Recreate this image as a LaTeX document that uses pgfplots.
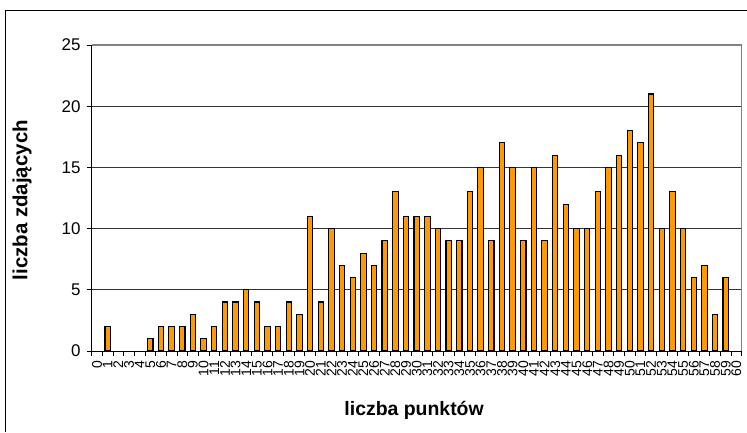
\documentclass[border=0pt]{standalone}
\usepackage{pgfplots}
\pgfplotsset{compat=1.18}
\usepackage{fontspec}
\setmainfont{Liberation Sans}
\definecolor{barorange}{HTML}{FF9900}
\definecolor{bordergray}{HTML}{808080}
\pgfplotstableread{
x y
0 0
1 2
2 0
3 0
4 0
5 1
6 2
7 2
8 2
9 3
10 1
11 2
12 4
13 4
14 5
15 4
16 2
17 2
18 4
19 3
20 11
21 4
22 10
23 7
24 6
25 8
26 7
27 9
28 13
29 11
30 11
31 11
32 10
33 9
34 9
35 13
36 15
37 9
38 17
39 15
40 9
41 15
42 9
43 16
44 12
45 10
46 10
47 13
48 15
49 16
50 18
51 17
52 21
53 10
54 13
55 10
56 6
57 7
58 3
59 6
60 0
}\datatable
\begin{document}
\begin{tikzpicture}[x=1bp,y=1bp]
\path[use as bounding box] (0,0) rectangle (747,432);
\draw[black, line width=1bp] (5,0) -- (5,421) -- (747,421);
\begin{axis}[
  at={(91.7bp,81bp)}, anchor=south west,
  scale only axis, width=650bp, height=306bp,
  xmin=-0.5, xmax=60.5, ymin=0, ymax=25,
  axis lines*=left,
  axis line style={black, line width=1bp, -},
  ybar, bar width=5.4bp,
  xtick={0,...,60},
  minor xtick={-0.5,0.5,...,60.5},
  major x tick style={draw=none},
  minor x tick style={black, line width=0.8bp},
  minor tick length=5bp,
  ytick={0,5,...,25},
  major tick length=5bp,
  tick align=outside,
  ytick style={black, line width=0.8bp},
  ymajorgrids,
  grid style={black!80, line width=0.8bp},
  /pgf/number format/assume math mode=true,
  xticklabel style={rotate=90, anchor=east, font=\fontsize{14}{14}\selectfont, inner xsep=5bp, inner ysep=0bp},
  yticklabel style={font=\fontsize{17}{17}\selectfont, inner sep=2bp, xshift=-4bp},
  xlabel={liczba punktów},
  ylabel={liczba zdających},
  every axis x label/.style={at={(axis description cs:0.496,-0.193)}, anchor=center, font=\bfseries\fontsize{19.5}{19.5}\selectfont},
  every axis y label/.style={at={(axis description cs:-0.107,0.493)}, anchor=center, rotate=90, font=\bfseries\fontsize{20.5}{20.5}\selectfont},
  clip=false,
]
\addplot[fill=barorange, draw=black, line width=1.1bp, y filter/.expression={y==0 ? nan : y}] table[x=x,y=y] {\datatable};
\draw[bordergray, line width=1.5bp] (rel axis cs:0,1) -- (rel axis cs:1,1) -- (rel axis cs:1,0);
\end{axis}
\end{tikzpicture}
\end{document}
